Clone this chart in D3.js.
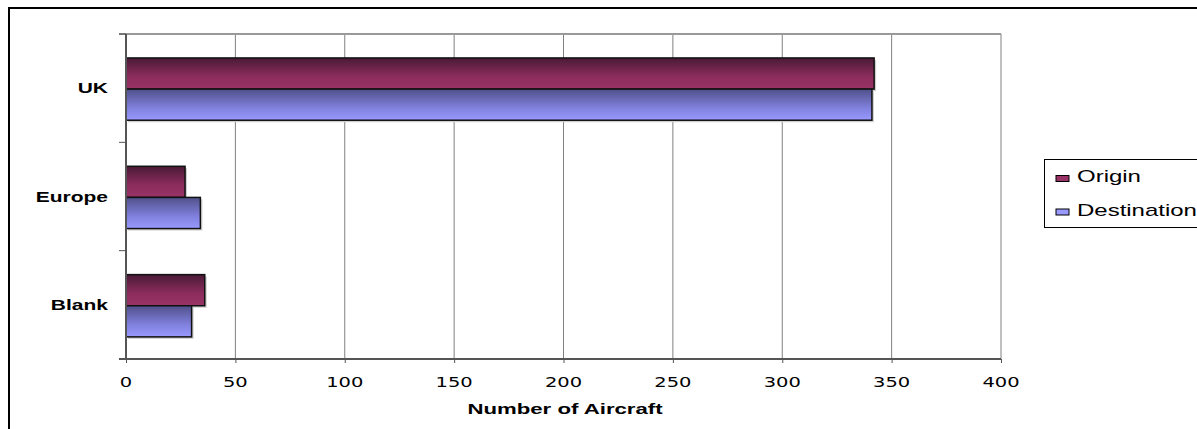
<!DOCTYPE html>
<html><head><meta charset="utf-8">
<script src="https://cdn.jsdelivr.net/npm/d3@7"></script>
<style>body{margin:0;background:#fff;}svg{display:block;}</style>
</head><body>
<script>
const categories = ["UK", "Europe", "Blank"];
const seriesNames = ["Origin", "Destination"];
const originValues = [342, 27, 36];
const destinationValues = [341, 34, 30];
const xTicks = [0, 50, 100, 150, 200, 250, 300, 350, 400];

const W = 1197, H = 429;
const svg = d3.select("body").append("svg").attr("width", W).attr("height", H);
const defs = svg.append("defs");
function grad(id, c1, c2, c3) {
  const g = defs.append("linearGradient").attr("id", id).attr("x1", 0).attr("y1", 0).attr("x2", 0).attr("y2", 1);
  g.append("stop").attr("offset", "0%").attr("stop-color", c1);
  g.append("stop").attr("offset", "60%").attr("stop-color", c2);
  g.append("stop").attr("offset", "100%").attr("stop-color", c3);
}
grad("gO", "#4a1a36", "#8c2d5d", "#993366");
grad("gD", "#50508a", "#8080dd", "#9999ff");
const fills = ["url(#gO)", "url(#gD)"];
const swatch = ["#993366", "#9999ff"];
const SANS = "Liberation Sans, Arial, sans-serif";
const SX = 1.42;

function stretchedText(g, x, y, str, opts) {
  const t = g.append("text").attr("transform", `translate(${x},${y}) scale(${opts.sx || SX},1)`)
    .attr("font-family", opts.family || SANS).attr("font-size", opts.size)
    .attr("font-weight", opts.weight || "normal").attr("text-anchor", opts.anchor || "start")
    .attr("fill", "#000").text(str);
  return t;
}

// outer border
svg.append("rect").attr("x", 9).attr("y", 8).attr("width", W).attr("height", H)
  .attr("fill", "none").attr("stroke", "#000").attr("stroke-width", 2);

const L = 126, R = 1001, T = 34, B = 359;
const x = d3.scaleLinear().domain([0, 400]).range([L, R]);
const y = d3.scaleBand().domain(categories).range([T, B]);
const inner = d3.scaleBand().domain(seriesNames).range([0, y.bandwidth()]).paddingInner(0).paddingOuter(0.74).align(0.52);

// gridlines
svg.append("g").selectAll("line").data(xTicks.slice(1)).join("line")
  .attr("x1", d => x(d)).attr("x2", d => x(d)).attr("y1", T).attr("y2", B)
  .attr("stroke", "#808080").attr("stroke-width", 1);
// top line
svg.append("line").attr("x1", L - 7).attr("x2", R).attr("y1", T).attr("y2", T)
  .attr("stroke", "#999").attr("stroke-width", 2);

// bars
const data = categories.map((c, i) => ({c, vals: [originValues[i], destinationValues[i]]}));
data.forEach(d => {
  d.vals.forEach((v, j) => {
    const yy = y(d.c) + inner(seriesNames[j]);
    svg.append("rect").attr("x", x(0) + 2).attr("y", yy + 2)
      .attr("width", x(v) - x(0)).attr("height", inner.bandwidth())
      .attr("fill", "#d0d0d0");
  });
  d.vals.forEach((v, j) => {
    const yy = y(d.c) + inner(seriesNames[j]);
    svg.append("rect").attr("x", x(0)).attr("y", yy)
      .attr("width", x(v) - x(0)).attr("height", inner.bandwidth())
      .attr("fill", fills[j]).attr("stroke", "#111").attr("stroke-width", 1.5);
  });
});

// x axis
const xAxis = d3.axisBottom(x).tickValues(xTicks).tickSize(4).tickFormat("");
const gx = svg.append("g").attr("transform", `translate(0,${B})`).call(xAxis);
gx.select(".domain").remove();
gx.selectAll(".tick line").attr("stroke", "#555");
const xl = svg.append("g");
xTicks.forEach(t => stretchedText(xl, x(t), 387, d3.format("d")(t),
  {family: "DejaVu Sans, Verdana, sans-serif", size: 14, anchor: "middle", sx: 1.39}));
svg.append("line").attr("x1", L - 7).attr("x2", R).attr("y1", B).attr("y2", B)
  .attr("stroke", "#555").attr("stroke-width", 2);

// y axis
svg.append("line").attr("x1", L).attr("x2", L).attr("y1", T).attr("y2", B)
  .attr("stroke", "#555").attr("stroke-width", 2);
const yb = [T].concat(categories.map(c => y(c) + y.bandwidth()));
svg.append("g").selectAll("line").data(yb).join("line")
  .attr("x1", L - 7).attr("x2", L).attr("y1", d => d).attr("y2", d => d)
  .attr("stroke", "#555").attr("stroke-width", 1);
const yl = svg.append("g");
categories.forEach(c => stretchedText(yl, 108, y(c) + y.bandwidth() / 2 + 5, c,
  {size: 15, weight: "bold", anchor: "end", sx: 1.4}));

// axis title
stretchedText(svg, 565, 413.5, "Number of Aircraft", {size: 15, weight: "bold", anchor: "middle", sx: 1.48});

// legend
const lg = svg.append("g");
lg.append("rect").attr("x", 1044.5).attr("y", 159.5).attr("width", 170).attr("height", 68)
  .attr("fill", "#fff").attr("stroke", "#000").attr("stroke-width", 1);
const legBase = [182, 215.5];
seriesNames.forEach((s, i) => {
  const by = legBase[i];
  lg.append("rect").attr("x", 1056).attr("y", by - 6.5).attr("width", 13).attr("height", 6)
    .attr("fill", swatch[i]).attr("stroke", "#000").attr("stroke-width", 1);
  stretchedText(lg, 1077, by, s, {size: 16, sx: 1.5});
});
</script>
</body></html>
